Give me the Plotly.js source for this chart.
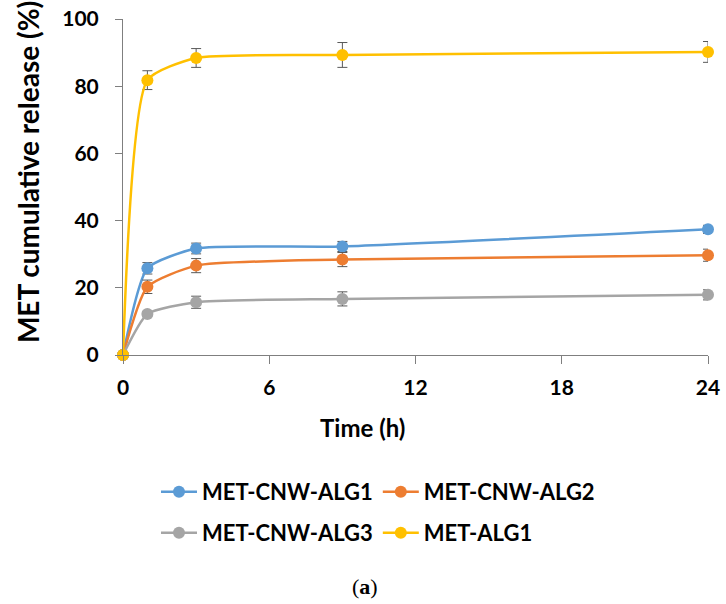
<!DOCTYPE html>
<html>
<head>
<meta charset="utf-8">
<script src="https://cdn.plot.ly/plotly-3.0.1.min.js"></script>
<style>html,body{margin:0;padding:0;background:#fff;}#chart{width:726px;height:604px;}</style>
</head>
<body>
<div id="chart"></div>
<script>
const time = [0, 1, 3, 9, 24];
const names = ["MET-CNW-ALG1", "MET-CNW-ALG2", "MET-CNW-ALG3", "MET-ALG1"];
const alg1 = [0, 25.8, 31.7, 32.3, 37.4];
const alg2 = [0, 20.3, 26.6, 28.4, 29.7];
const alg3 = [0, 12.2, 15.7, 16.7, 17.9];
const metAlg1 = [0, 81.8, 88.4, 89.3, 90.2];
const errAlg1 = [0, 1.7, 1.6, 1.5, 1.2];
const errAlg2 = [0, 2.0, 2.1, 2.1, 1.8];
const errAlg3 = [0, 0.8, 1.8, 2.1, 1.5];
const errMetAlg1 = [0, 2.8, 2.8, 3.7, 3.1];
const colors = ["#5B9BD5", "#ED7D31", "#A5A5A5", "#FFC000"];
const xTicks = [0, 6, 12, 18, 24];
const yTicks = [0, 20, 40, 60, 80, 100];

const series = [alg1, alg2, alg3, metAlg1];
const errs = [errAlg1, errAlg2, errAlg3, errMetAlg1];
const legendOf = ["legend", "legend", "legend2", "legend2"];
const FONT = "Lato, 'Open Sans', sans-serif";

const traces = series.map((ys, i) => ({
  type: "scatter",
  mode: "lines+markers",
  name: names[i],
  legend: legendOf[i],
  x: time,
  y: ys,
  line: {color: colors[i], width: 2.5, shape: "spline", smoothing: 0.55},
  marker: {color: colors[i], size: 12},
  error_y: {type: "data", array: errs[i], visible: true, color: "#595959", thickness: 1, width: 5},
  cliponaxis: false
}));

const legendBase = {
  orientation: "h", x: 0.0564, xanchor: "left", yanchor: "middle",
  itemwidth: 36,
  font: {family: FONT, size: 22, color: "#000", weight: "bold"},
  bgcolor: "rgba(0,0,0,0)"
};

const layout = {
  width: 726, height: 604,
  margin: {l: 123, r: 18, t: 19, b: 249},
  paper_bgcolor: "#fff", plot_bgcolor: "#fff",
  font: {family: FONT, color: "#000"},
  showlegend: true,
  xaxis: {
    range: [0, 24], tickvals: xTicks, ticktext: xTicks.map(String),
    showgrid: false, zeroline: false, showline: true, linecolor: "#7f7f7f", linewidth: 1,
    ticks: "outside", ticklen: 8, tickcolor: "#7f7f7f",
    ticklabelstandoff: 6,
    tickfont: {family: FONT, size: 21, color: "#000", weight: "bold"}
  },
  yaxis: {
    range: [0, 100], tickvals: yTicks, ticktext: yTicks.map(String),
    showgrid: false, zeroline: false, showline: true, linecolor: "#7f7f7f", linewidth: 1,
    ticks: "outside", ticklen: 7, tickcolor: "#7f7f7f",
    ticklabelstandoff: 12,
    tickfont: {family: FONT, size: 21, color: "#000", weight: "bold"}
  },
  legend: Object.assign({}, legendBase, {y: -0.4077}),
  legend2: Object.assign({}, legendBase, {y: -0.5298}),
  annotations: [
    {text: "<b>MET cumulative release (%)</b>", textangle: -90, xref: "paper", yref: "paper",
     x: -0.162, y: 0.545, xanchor: "center", yanchor: "middle", showarrow: false,
     font: {family: FONT, size: 28, color: "#000"}},
    {text: "<b>Time (h)</b>", xref: "paper", yref: "paper",
     x: 0.41, y: -0.217, xanchor: "center", yanchor: "middle", showarrow: false,
     font: {family: FONT, size: 24, color: "#000"}},
    {text: "(<b>a</b>)", xref: "paper", yref: "paper",
     x: 0.414, y: -0.69, xanchor: "center", yanchor: "middle", showarrow: false,
     font: {family: "'Liberation Serif', serif", size: 22, color: "#000"}}
  ]
};

Plotly.newPlot("chart", traces, layout, {displayModeBar: false, staticPlot: true});
</script>
</body>
</html>
